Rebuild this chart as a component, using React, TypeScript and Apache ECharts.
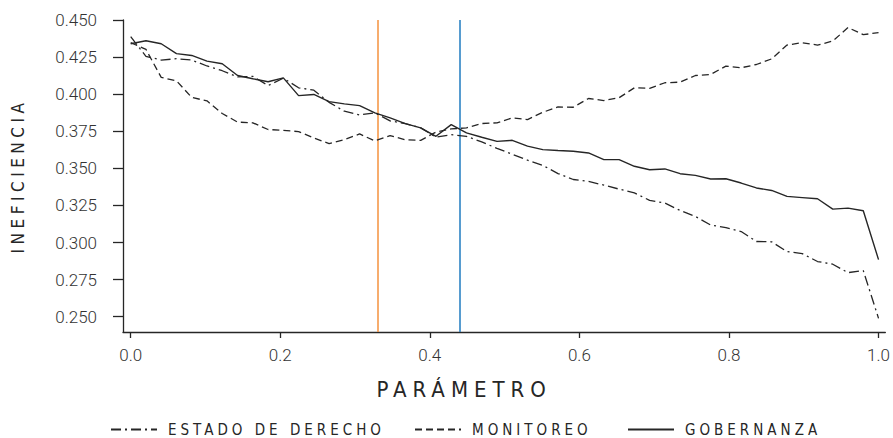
import React, { useEffect, useRef } from "react";
import * as echarts from "echarts";

// Parameter grid (x values)
const PARAM = [
  0, 0.0204, 0.0408, 0.0612, 0.0816, 0.102, 0.1224, 0.1429, 0.1633, 0.1837,
  0.2041, 0.2245, 0.2449, 0.2653, 0.2857, 0.3061, 0.3265, 0.3469, 0.3673, 0.3878,
  0.4082, 0.4286, 0.449, 0.4694, 0.4898, 0.5102, 0.5306, 0.551, 0.5714, 0.5918,
  0.6122, 0.6327, 0.6531, 0.6735, 0.6939, 0.7143, 0.7347, 0.7551, 0.7755, 0.7959,
  0.8163, 0.8367, 0.8571, 0.8776, 0.898, 0.9184, 0.9388, 0.9592, 0.9796, 1.0,
];

const ESTADO = [
  0.4388, 0.4255, 0.423, 0.4239, 0.423, 0.419, 0.4158, 0.4117, 0.412, 0.4058,
  0.4108, 0.4043, 0.4027, 0.3945, 0.3885, 0.386, 0.3874, 0.382, 0.3802, 0.3773,
  0.371, 0.3727, 0.3716, 0.3678, 0.3635, 0.3595, 0.3555, 0.352, 0.3465, 0.3425,
  0.3412, 0.3387, 0.336, 0.3335, 0.3284, 0.3266, 0.3216, 0.3176, 0.3118, 0.3101,
  0.3074, 0.3007, 0.3005, 0.2939, 0.2925, 0.2872, 0.2854, 0.2797, 0.2811, 0.2489,
];

const MONITOREO = [
  0.4347, 0.4302, 0.4113, 0.409, 0.3978, 0.3955, 0.387, 0.3812, 0.3807, 0.3762,
  0.3756, 0.3748, 0.3705, 0.3667, 0.3694, 0.3732, 0.3685, 0.3721, 0.3692, 0.3689,
  0.3745, 0.3766, 0.3773, 0.3802, 0.3807, 0.384, 0.3829, 0.3878, 0.3914, 0.3912,
  0.3971, 0.3957, 0.3976, 0.4043, 0.4039, 0.4077, 0.4081, 0.4126, 0.4133, 0.4189,
  0.4178, 0.42, 0.4238, 0.4331, 0.4347, 0.4331, 0.4358, 0.4449, 0.4401, 0.4415,
];

const GOBERNANZA = [
  0.434, 0.436, 0.434, 0.4273, 0.4261, 0.4223, 0.4205, 0.4126, 0.4104, 0.4084,
  0.411, 0.399, 0.3998, 0.395, 0.3935, 0.3923, 0.3874, 0.384, 0.3802, 0.3773,
  0.3716, 0.3795, 0.3739, 0.371, 0.3682, 0.3689, 0.365, 0.3626, 0.362, 0.3615,
  0.3604, 0.3559, 0.3559, 0.3514, 0.3491, 0.3496, 0.3464, 0.3453, 0.3428, 0.343,
  0.3401, 0.3368, 0.3351, 0.3311, 0.3303, 0.3295, 0.3225, 0.3232, 0.3214, 0.2885,
];

const X_TICKS = [0, 0.2, 0.4, 0.6, 0.8, 1.0];
const Y_TICKS = [0.25, 0.275, 0.3, 0.325, 0.35, 0.375, 0.4, 0.425, 0.45];

const ORANGE_X = 0.325;
const BLUE_X = 0.442;

const SERIES_NAMES = ["ESTADO DE DERECHO", "MONITOREO", "GOBERNANZA"];
const X_TITLE = "PARÁMETRO";
const Y_TITLE = "INEFICIENCIA";

const NARROW = '"Liberation Sans Narrow", "DejaVu Sans Condensed", Roboto, sans-serif';
const NUMFONT = 'Roboto, "Noto Sans", sans-serif';
const INK = "#262626";

export default function App() {
  const ref = useRef<HTMLDivElement>(null);

  useEffect(() => {
    const el = ref.current!;
    const chart = echarts.init(el, null, { renderer: "svg" });
    const pairs = (ys: number[]) => PARAM.map((x, i) => [x, ys[i]]);

    const legendBase = (name: string, left: number) => ({
      show: true,
      data: [name],
      left,
      top: 417,
      itemWidth: 46,
      itemHeight: 14,
      selectedMode: false,
      itemStyle: { opacity: 0, borderWidth: 0 },
      textStyle: {
        fontFamily: NARROW,
        fontSize: 15,
        color: INK,
        padding: [0, 0, 0, 6],
      },
    });

    const option: any = {
      animation: false,
      backgroundColor: "#ffffff",
      grid: { left: 123, top: 20, width: 764, height: 312, containLabel: false },
      legend: [
        legendBase(SERIES_NAMES[0], 105),
        legendBase(SERIES_NAMES[1], 409),
        legendBase(SERIES_NAMES[2], 622),
      ],
      xAxis: {
        type: "value",
        min: -0.0103,
        max: 1.0091,
        name: X_TITLE,
        nameLocation: "middle",
        nameGap: 46,
        nameTextStyle: {
          fontFamily: NARROW,
          fontSize: 22,
          color: INK,
          padding: [0, 80, 0, 0],
        },
        axisLine: { show: true, onZero: false, lineStyle: { color: INK, width: 1.3 } },
        axisTick: { show: true, length: 6, customValues: X_TICKS, lineStyle: { color: INK, width: 1.3 } },
        axisLabel: {
          customValues: X_TICKS,
          formatter: (v: number) => v.toFixed(1),
          margin: 14,
          fontFamily: NUMFONT,
          fontWeight: 300,
          fontSize: 17,
          color: "#333",
        },
        splitLine: { show: false },
      },
      yAxis: {
        type: "value",
        min: 0.2397,
        max: 0.45,
        name: Y_TITLE,
        nameLocation: "middle",
        nameGap: 97,
        nameTextStyle: {
          fontFamily: NARROW,
          fontSize: 17,
          color: INK,
        },
        axisLine: { show: true, onZero: false, lineStyle: { color: INK, width: 1.3 } },
        axisTick: { show: true, length: 10, customValues: Y_TICKS, lineStyle: { color: INK, width: 1.3 } },
        axisLabel: {
          customValues: Y_TICKS,
          formatter: (v: number) => v.toFixed(3),
          margin: 26,
          fontFamily: NUMFONT,
          fontWeight: 300,
          fontSize: 17,
          color: "#333",
        },
        splitLine: { show: false },
      },
      series: [
        {
          name: SERIES_NAMES[0],
          type: "line",
          data: pairs(ESTADO),
          symbol: "none",
          itemStyle: { color: INK },
          lineStyle: { color: INK, width: 1.3, type: [10, 4, 2, 4] },
          z: 3,
        },
        {
          name: SERIES_NAMES[1],
          type: "line",
          data: pairs(MONITOREO),
          symbol: "none",
          itemStyle: { color: INK },
          lineStyle: { color: INK, width: 1.3, type: [7, 4] },
          z: 3,
        },
        {
          name: SERIES_NAMES[2],
          type: "line",
          data: pairs(GOBERNANZA),
          symbol: "none",
          itemStyle: { color: INK },
          lineStyle: { color: INK, width: 1.4, type: "solid" },
          z: 3,
          markLine: {
            silent: true,
            symbol: "none",
            label: { show: false },
            z: 2,
            data: [
              { xAxis: ORANGE_X, lineStyle: { color: "#F5923E", width: 1.5, type: "solid" } },
              { xAxis: BLUE_X, lineStyle: { color: "#1F7BC0", width: 1.5, type: "solid" } },
            ],
          },
        },
      ],
    };

    chart.setOption(option);

    const spacing: Record<string, number> = {
      [X_TITLE]: 6,
      [Y_TITLE]: 4.5,
      [SERIES_NAMES[0]]: 4,
      [SERIES_NAMES[1]]: 4,
      [SERIES_NAMES[2]]: 4,
    };
    const applySpacing = () => {
      el.querySelectorAll("text").forEach((t) => {
        const s = spacing[(t.textContent || "").trim()];
        if (s) t.setAttribute("letter-spacing", String(s));
      });
    };
    applySpacing();
    chart.on("finished", applySpacing);

    return () => {
      chart.dispose();
    };
  }, []);

  return (
    <div
      ref={ref}
      style={{ position: "fixed", left: 0, top: 0, width: 893, height: 438 }}
    />
  );
}
